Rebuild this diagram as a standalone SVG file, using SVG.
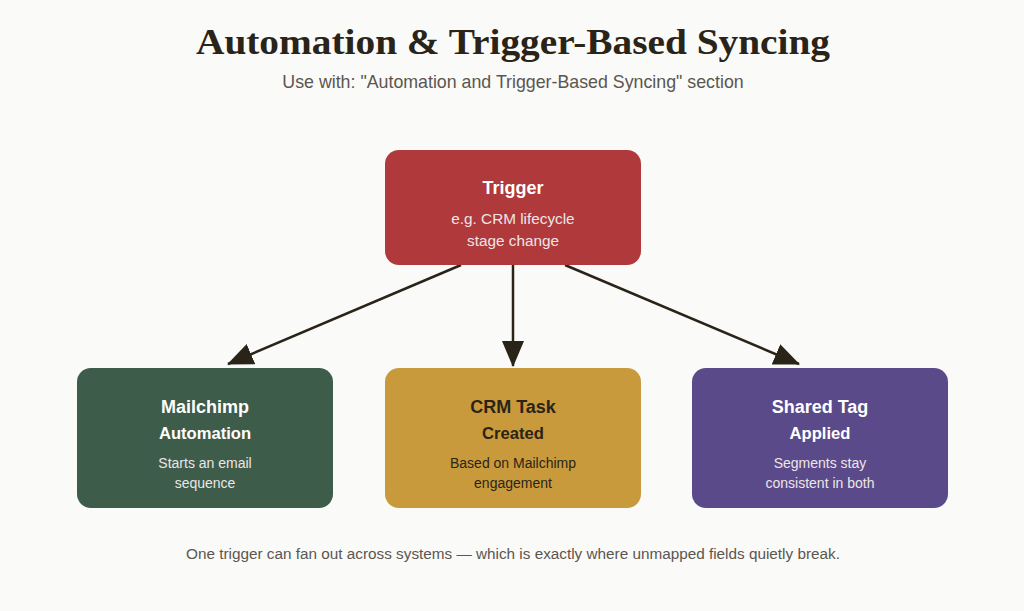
<svg xmlns="http://www.w3.org/2000/svg" width="1024" height="611" viewBox="0 0 1024 611">
<defs>
<style>
.title{font-family:"Liberation Serif","DejaVu Serif",serif;font-weight:bold;font-size:35px;fill:#2a2418;text-anchor:middle}
.sub{font-family:"Liberation Sans",Arial,sans-serif;font-size:17.8px;fill:#5a5650;text-anchor:middle}
.cap{font-family:"Liberation Sans",Arial,sans-serif;font-size:15.3px;fill:#5a5650;text-anchor:middle}
.h{font-family:"Liberation Sans",Arial,sans-serif;font-weight:bold;font-size:18px;text-anchor:middle}
.h2{font-family:"Liberation Sans",Arial,sans-serif;font-weight:bold;font-size:16.6px;text-anchor:middle}
.d{font-family:"Liberation Sans",Arial,sans-serif;font-size:14px;text-anchor:middle}
.dm{font-family:"Liberation Sans",Arial,sans-serif;font-size:15.3px;text-anchor:middle}
.light{fill:#ffffff}
.lightd{fill:#ece6e6}
.dark{fill:#2a2418}
.conn{stroke:#2a2418;stroke-width:2.5;fill:none}
</style>
<marker id="ah" markerUnits="userSpaceOnUse" markerWidth="26" markerHeight="22" refX="25" refY="11" orient="auto" viewBox="0 0 26 22">
<path d="M0,0 L26,11 L0,22 z" fill="#2a2418"/>
</marker>
</defs>
<rect width="1024" height="611" fill="#fafaf8"/>
<text class="title" x="513" y="54" textLength="634" lengthAdjust="spacingAndGlyphs">Automation &amp; Trigger-Based Syncing</text>
<text class="sub" x="513" y="88">Use with: "Automation and Trigger-Based Syncing" section</text>

<g id="connectors">
<line class="conn" x1="461" y1="265" x2="228" y2="364" marker-end="url(#ah)"/>
<line class="conn" x1="513" y1="265" x2="513" y2="366" marker-end="url(#ah)"/>
<line class="conn" x1="565" y1="265" x2="799" y2="364" marker-end="url(#ah)"/>
</g>

<g id="trigger">
<rect x="385" y="150" width="256" height="115" rx="14" fill="#b0393b"/>
<text class="h light" x="513" y="194">Trigger</text>
<text class="dm lightd" x="513" y="224">e.g. CRM lifecycle</text>
<text class="dm lightd" x="513" y="246">stage change</text>
</g>

<g id="mailchimp">
<rect x="77" y="368" width="256" height="140" rx="14" fill="#3d5c4a"/>
<text class="h light" x="205" y="413">Mailchimp</text>
<text class="h2 light" x="205" y="439">Automation</text>
<text class="d lightd" x="205" y="468">Starts an email</text>
<text class="d lightd" x="205" y="488">sequence</text>
</g>

<g id="crmtask">
<rect x="385" y="368" width="256" height="140" rx="14" fill="#c99a3b"/>
<text class="h dark" x="513" y="413">CRM Task</text>
<text class="h2 dark" x="513" y="439">Created</text>
<text class="d dark" x="513" y="468">Based on Mailchimp</text>
<text class="d dark" x="513" y="488">engagement</text>
</g>

<g id="sharedtag">
<rect x="692" y="368" width="256" height="140" rx="14" fill="#5b4a8a"/>
<text class="h light" x="820" y="413">Shared Tag</text>
<text class="h2 light" x="820" y="439">Applied</text>
<text class="d lightd" x="820" y="468">Segments stay</text>
<text class="d lightd" x="820" y="488">consistent in both</text>
</g>

<text class="cap" x="513" y="559">One trigger can fan out across systems — which is exactly where unmapped fields quietly break.</text>
</svg>
